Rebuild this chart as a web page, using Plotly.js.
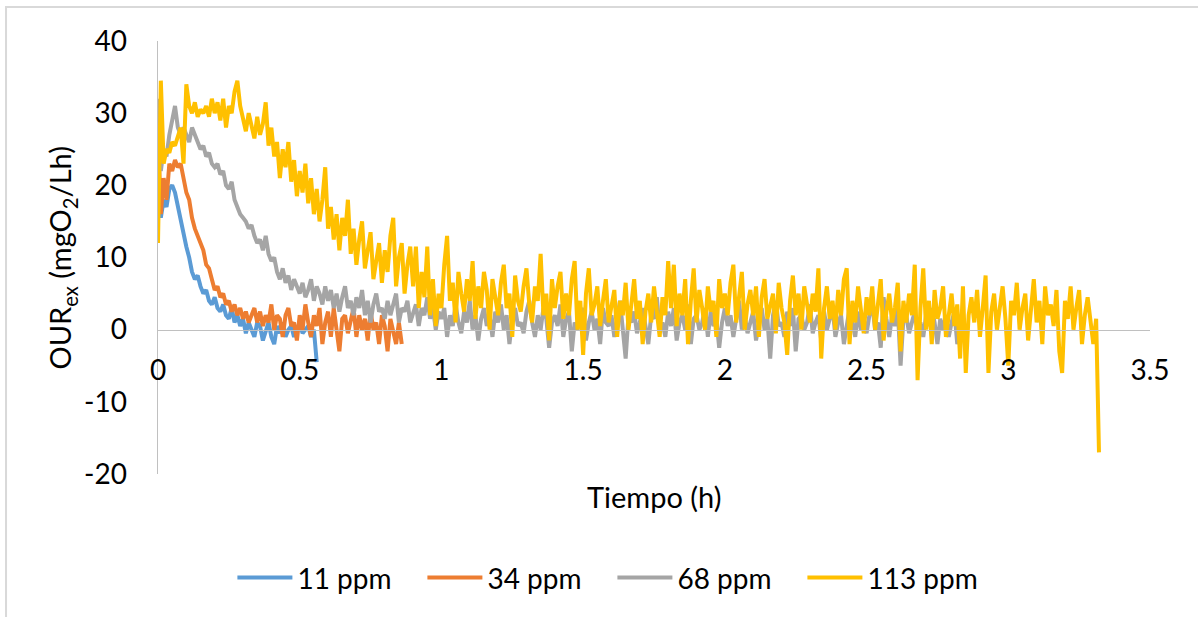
<!DOCTYPE html>
<html>
<head>
<meta charset="utf-8">
<script src="https://cdn.plot.ly/plotly-3.0.1.min.js"></script>
<style>
  html, body { margin: 0; padding: 0; background: #fff; }
  #chart { width: 1198px; height: 617px; }
</style>
</head>
<body>
<div id="chart"></div>
<script>
// Sampling interval of the recorded series (hours)
const timeStep = 0.01;

const seriesNames = ['11 ppm', '34 ppm', '68 ppm', '113 ppm'];

const ppm11 = [
  21, 15.5, 18, 17, 19.5, 20, 19, 17, 15, 13,
  11.5, 10, 8, 7, 7.5, 6, 5, 5.5, 4, 3.5,
  4.5, 3, 2.5, 3.5, 2, 1.5, 3, 1, 2, 0.5,
  1.5, -0.5, 1, 0, -1, 1, 0.5, -1.5, 0, 1,
  -1, -2, 0.5, -0.5, 1, -1, 0, 0.5, -1, 0,
  1, -0.5, 0, 0.5, -1, 0, -4.5
];

const ppm34 = [
  27.5, 16, 21, 18, 23, 22, 23.5, 22.5, 23, 21,
  19, 18, 15.5, 14, 13, 12, 11, 9, 8.5, 7,
  5.5, 6, 4.5, 5, 3.5, 4, 2.5, 3.5, 2, 3,
  1.5, 2.5, 1, 2, 3, 1, 2.5, 0.5, 2, 1,
  3.5, 0, 2, 1.5, -1, 2, 3, 0.5, 1, -1.5,
  2, 0, 3.5, 1, -1, 2, 0.5, 3, -2, 1,
  2.5, -1, 3, 0, -3, 1.5, 2, -0.5, 1, 3,
  -1, 2, 0, 1.5, -1.5, 2.5, 0, 1, -2, 2,
  0.5, -3, 1.5, 0, -2, 1, -2
];

const ppm68 = [
  32, 22, 25, 24, 27, 29, 31, 28, 27, 28,
  27, 26, 28, 27, 26, 25, 25.5, 24, 24.5, 23,
  22.5, 23, 21.5, 22, 20, 19.5, 20.5, 18, 17, 16,
  15.5, 15, 14, 14.5, 13, 12, 12.5, 11, 13, 10.5,
  9.5, 10, 8, 7, 8.5, 6.5, 7.5, 5.5, 7, 6,
  5, 6.5, 4.5, 5.5, 7, 4, 6, 5, 3.5, 6,
  4, 5.5, 3, 5, 2.5, 4.5, 6, 3, 4, 2,
  4.5, 3, 5.5, 2, 4, 1, 3.5, 5, 2.5, 3,
  1.5, 4, 2, 3.5, 5, 1, 3, 2.5, 4, 1,
  2.5, 3.5, 0.5, 3, 2, 4.5, 1.5, 3, 0, 2.5,
  1.5, 3, -1, 2, 0.5, 3.5, 1, -0.5, 2.5, 1,
  4, 0, 2, -1.5, 1.5, 3, 0.5, 2, -1, 2.5,
  1, 3.5, 0, 2, -2, 1.5, 3, 0.5, 1, -0.5,
  2.5, 4, 1, -1, 2, 0, 3, 1.5, -2.5, 1,
  2, 0.5, 3.5, -1, 1.5, 2.5, -3, 1, 0, 2,
  3, -1.5, 1, 2.5, 0, 1.5, -2, 3, 1, 0.5,
  2, -1, 1.5, 4, 0, -4, 2, 1, 2.5, -0.5,
  1, 3, 0.5, -2, 2, 1.5, 4.5, 0, 1, -1,
  2.5, 0.5, 3, -1.5, 1, 2, 0, 3.5, -2, 1.5,
  2, 0, 1, 3, -1, 2.5, 0.5, 1.5, -2.5, 1,
  3, 0.5, 2, -1, 1.5, 4, 0, 2, -0.5, 1,
  2.5, -1.5, 1, 3, 0, 1.5, -4, 2, 4, 0.5,
  1, -1, 2.5, 0.5, 3, -3, 1.5, 2, 0, 1,
  3.5, -0.5, 1, 2, -1.5, 2.5, 0, 1.5, 3, -1,
  1, 2, -2, 0.5, 3, 1, -1, 2.5, 0, 1.5,
  -0.5, 2, 3.5, 0, 1, -2.5, 4.5, 1.5, -1, 2,
  0.5, 3, -5, 1.5, 2, -0.5, 1, 2.5, 0, 1,
  -1, 2, 0.5, 3, 1, -2, 1.5, 0, 2, -1,
  1, 2.5, -2, 0.5, 1
];

const ppm113 = [
  12, 34.5, 23, 25, 24.5, 26, 25.5, 27, 28, 23,
  34, 31, 30, 31.5, 29.5, 30.5, 30, 31, 29.5, 32,
  30, 31.5, 29, 32, 28, 31, 30, 33, 34.5, 31,
  29, 27.5, 30, 28, 26.5, 29.5, 27, 28.5, 31.5, 25.5,
  28, 24, 26, 21, 25, 22.5, 26, 20.5, 23.5, 18.5,
  22, 19, 23, 17.5, 21, 16, 19.5, 15, 18, 22.5,
  14, 17, 12.5, 16, 11, 15.5, 13, 18, 10.5, 14,
  9, 12.5, 15, 8.5, 11, 13.5, 7, 10, 12, 6.5,
  11, 8, 13, 15.5, 6, 10, 12, 5, 9, 11.5,
  6, 11.5, 3, 8, 4.5, 11.5, 2, 7, 0.5, 5,
  3, 9, 13, 4, 6.5, 1, 8, 5, 2.5, 7,
  4, 9.5, 1.5, 6, 3, 8, 5.5, 0, 7, 4.5,
  2, 6.5, 9, 3, 5, -1, 7.5, 4, 2.5, 6,
  8.5, 3.5, 1, 6, 4, 10.5, 2, 5, -1.5, 7,
  3, 6, 8, 1.5, 5, 2, 7, 9.5, 0, 4,
  -3.5, 5, 8.5, 2, 3.5, 6, 0.5, 4, 7, 1,
  3, 5.5, -1, 4, 2, 6.5, 0, 3.5, 7, 1.5,
  4, -2, 2.5, 5, 1, 6, 3, -1, 4.5, 2,
  9.5, 3, 9, 0.5, 5, 2, 7, -2, 4, 8.5,
  1, 5.5, 3, 0, 6, 2.5, 4, -1, 7, 3,
  5, 2, 6.5, 9, 1, 4, 8, 0, 3.5, 5.5,
  2, 6, -1, 4.5, 7, 1.5, 3, 5, -0.5, 6.5,
  3, 1, -3.5, 4, 7.5, 2, 5, 0, 6, 3.5,
  1, 5, 2.5, 8.5, -4, 3, 6, 1.5, 4, 0,
  5.5, 2, 7, 8.5, -2, 4, 1, 6, 3, -0.5,
  4.5, 2, 6, 0, 3.5, 7, -1.5, 2.5, 5, 1,
  3, 6.5, -3, 4, 1, 5, 2, 9, -7, 3,
  8.5, 0, 4, -2, 5.5, 1.5, 3, 6, -1, 2,
  5, 0.5, 3.5, -4, 6, -6, 2, 4.5, 1, 5.5,
  -1, 3, 7.5, -6, 2.5, 5, 0, 3, 6, 1.5,
  -5, 4, 2, 6.5, 0, 3, 5, -1.5, 2.5, 7,
  1, 4, -2, 6, 2, 3.5, 0.5, 5.5, -3, -6,
  4, 1.5, 6, 0, 3, 5.5, -2, 2, 4.5, 1,
  -2, 1.5, -17
];

const xTickVals = [0, 0.5, 1, 1.5, 2, 2.5, 3, 3.5];
const xTickText = ['0', '0.5', '1', '1.5', '2', '2.5', '3', '3.5'];
const yTickVals = [-20, -10, 0, 10, 20, 30, 40];
const yTickText = ['-20', '-10', '0', '10', '20', '30', '40'];

const seriesColors = ['#5B9BD5', '#ED7D31', '#A5A5A5', '#FFC000'];
const allSeries = [ppm11, ppm34, ppm68, ppm113];

const timesFor = vals => vals.map((_, i) => +(i * timeStep).toFixed(4));

const traces = allSeries.map((vals, k) => ({
  type: 'scatter',
  mode: 'lines',
  name: seriesNames[k],
  x: timesFor(vals),
  y: vals,
  line: { color: seriesColors[k], width: 4 },
  hoverinfo: 'x+y+name'
}));

const FONT = 'Lato, "Open Sans", sans-serif';

const layout = {
  width: 1198,
  height: 617,
  margin: { l: 158, r: 48, t: 41, b: 143, pad: 0, autoexpand: false },
  paper_bgcolor: '#ffffff',
  plot_bgcolor: '#ffffff',
  font: { family: FONT, size: 28, color: '#000000' },
  showlegend: true,
  legend: {
    orientation: 'h',
    x: 0.075, xanchor: 'left',
    y: -0.24, yanchor: 'middle',
    entrywidth: 120, entrywidthmode: 'pixels',
    itemwidth: 55,
    font: { family: FONT, size: 28, color: '#000000' },
    bgcolor: 'rgba(0,0,0,0)'
  },
  xaxis: {
    range: [0, 3.5],
    tickmode: 'array', tickvals: xTickVals, ticktext: xTickText,
    anchor: 'free', position: 1 / 3,
    showline: true, linecolor: '#c0c0c0', linewidth: 1.5,
    showgrid: false, zeroline: false,
    ticks: 'outside', ticklen: 15, tickcolor: 'rgba(0,0,0,0)',
    tickfont: { family: FONT, size: 28, color: '#000000' },
    fixedrange: true
  },
  yaxis: {
    range: [-20, 40],
    tickmode: 'array', tickvals: yTickVals, ticktext: yTickText,
    showline: true, linecolor: '#c0c0c0', linewidth: 1.5,
    showgrid: false, zeroline: false,
    ticks: 'outside', ticklen: 24, tickcolor: 'rgba(0,0,0,0)',
    tickfont: { family: FONT, size: 28, color: '#000000' },
    fixedrange: true
  },
  annotations: [
    {
      text: 'Tiempo (h)', xref: 'paper', yref: 'paper',
      x: 0.5, y: -0.053, xanchor: 'center', yanchor: 'middle',
      showarrow: false, font: { family: FONT, size: 29, color: '#000000' }
    },
    {
      text: 'OUR<sub>ex</sub> (mgO<sub>2</sub>/Lh)', xref: 'paper', yref: 'paper',
      x: -0.0968, y: 0.5, xanchor: 'center', yanchor: 'middle',
      textangle: -90, showarrow: false, font: { family: FONT, size: 29, color: '#000000' }
    }
  ],
  shapes: [
    {
      type: 'rect', xref: 'paper', yref: 'paper', layer: 'below',
      x0: -0.1532, x1: 1.06, y0: -0.34, y1: 1.0785,
      line: { color: '#d9d9d9', width: 2 }, fillcolor: 'rgba(0,0,0,0)'
    }
  ]
};

Plotly.newPlot('chart', traces, layout, { displayModeBar: false, staticPlot: true });
</script>
</body>
</html>
